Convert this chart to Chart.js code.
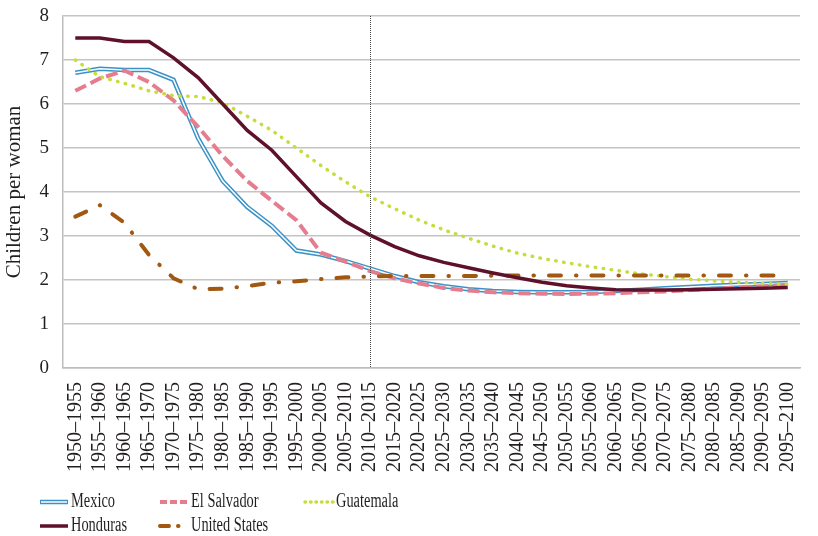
<!DOCTYPE html>
<html>
<head>
<meta charset="utf-8">
<script src="https://cdn.jsdelivr.net/npm/chart.js@4.4.1/dist/chart.umd.min.js"></script>
<style>
  html, body { margin: 0; padding: 0; background: #fff; }
  #wrap { width: 818px; height: 536px; }
</style>
</head>
<body>
<div id="wrap"><canvas id="fertility"></canvas></div>
<script>
// five-year periods
const periods = [
  '1950–1955', '1955–1960', '1960–1965', '1965–1970', '1970–1975', '1975–1980',
  '1980–1985', '1985–1990', '1990–1995', '1995–2000', '2000–2005', '2005–2010',
  '2010–2015', '2015–2020', '2020–2025', '2025–2030', '2030–2035', '2035–2040',
  '2040–2045', '2045–2050', '2050–2055', '2055–2060', '2060–2065', '2065–2070',
  '2070–2075', '2075–2080', '2080–2085', '2085–2090', '2090–2095', '2095–2100'
];
const projectionStart = '2010–2015';

const mexico = [6.71, 6.8, 6.77, 6.77, 6.55, 5.22, 4.25, 3.66, 3.23, 2.67, 2.58, 2.43, 2.26, 2.09, 1.95,
  1.86, 1.79, 1.75, 1.73, 1.72, 1.72, 1.73, 1.75, 1.78, 1.81, 1.84, 1.87, 1.89, 1.91, 1.93];
const elSalvador = [6.3, 6.58, 6.76, 6.5, 6.08, 5.48, 4.82, 4.25, 3.8, 3.36, 2.62, 2.42, 2.2, 2.04, 1.92,
  1.82, 1.76, 1.72, 1.7, 1.69, 1.68, 1.69, 1.7, 1.72, 1.74, 1.77, 1.8, 1.83, 1.86, 1.89];
const guatemala = [7.0, 6.62, 6.47, 6.3, 6.19, 6.17, 6.03, 5.72, 5.4, 5.0, 4.6, 4.23, 3.89, 3.62, 3.36,
  3.14, 2.95, 2.77, 2.61, 2.49, 2.39, 2.3, 2.22, 2.14, 2.08, 2.02, 1.98, 1.95, 1.92, 1.9];
const honduras = [7.5, 7.5, 7.42, 7.42, 7.05, 6.6, 6.0, 5.4, 4.95, 4.35, 3.75, 3.33, 3.02, 2.76, 2.55,
  2.4, 2.28, 2.16, 2.05, 1.95, 1.87, 1.82, 1.78, 1.77, 1.77, 1.78, 1.79, 1.8, 1.81, 1.83];
const unitedStates = [3.44, 3.7, 3.3, 2.57, 2.04, 1.79, 1.8, 1.86, 1.94, 1.97, 2.02, 2.06, 2.08, 2.09, 2.09,
  2.09, 2.09, 2.1, 2.1, 2.1, 2.1, 2.1, 2.1, 2.1, 2.1, 2.1, 2.1, 2.1, 2.1, 2.1];

const yTicks = [0, 1, 2, 3, 4, 5, 6, 7, 8];

const serif = '"Liberation Serif", "DejaVu Serif", serif';
const ink = '#231f20';

// dotted vertical line where projections start
const projectionLine = {
  id: 'projectionLine',
  afterDatasetsDraw(chart) {
    const { ctx, chartArea, scales } = chart;
    const x = Math.round(scales.x.getPixelForValue(periods.indexOf(projectionStart))) + 0.5;
    ctx.save();
    ctx.strokeStyle = '#444';
    ctx.lineWidth = 1;
    ctx.setLineDash([1, 1]);
    ctx.beginPath();
    ctx.moveTo(x, chartArea.top);
    ctx.lineTo(x, chartArea.bottom);
    ctx.stroke();
    ctx.restore();
  }
};

// legend laid out in fixed columns like the original
const gridLegend = {
  id: 'gridLegend',
  afterDraw(chart) {
    const ctx = chart.ctx;
    const colX = [40, 160, 305];
    const rowY = [502, 526];
    chart.data.datasets.forEach(ds => {
      if (!ds.legend) return;
      const x = colX[ds.legend.col], y = rowY[ds.legend.row];
      const w = 28;
      ctx.save();
      ctx.lineCap = ds.borderCapStyle || 'butt';
      ctx.strokeStyle = ds.borderColor;
      ctx.lineWidth = ds.borderWidth;
      ctx.setLineDash(ds.legend.dash || []);
      ctx.beginPath();
      ctx.moveTo(x, y);
      ctx.lineTo(x + w, y);
      ctx.stroke();
      if (ds.legend.inner) {
        ctx.strokeStyle = '#fff';
        ctx.lineWidth = 1.5;
        ctx.beginPath();
        ctx.moveTo(x + 1, y);
        ctx.lineTo(x + w - 1, y);
        ctx.stroke();
      }
      ctx.restore();
      ctx.save();
      ctx.fillStyle = ink;
      ctx.font = '20px ' + serif;
      ctx.textBaseline = 'middle';
      ctx.translate(x + w + 3, y);
      ctx.scale(0.72, 1);
      ctx.fillText(ds.label, 0, 0);
      ctx.restore();
    });
  }
};

new Chart(document.getElementById('fertility'), {
  type: 'line',
  data: {
    labels: periods,
    datasets: [
      {
        label: 'Honduras',
        data: honduras,
        borderColor: '#5e1129',
        borderWidth: 3.5,
        order: 1,
        legend: { col: 0, row: 1 }
      },
      {
        label: 'United States',
        data: unitedStates,
        borderColor: '#a15912',
        borderWidth: 4,
        borderCapStyle: 'round',
        borderDash: [12, 15, 0.5, 15],
        order: 2,
        legend: { col: 1, row: 1, dash: [9, 9, 0.5, 20] }
      },
      {
        label: 'Guatemala',
        data: guatemala,
        borderColor: '#c8dc3c',
        borderWidth: 3.5,
        borderCapStyle: 'round',
        borderDash: [0.5, 7.5],
        order: 3,
        legend: { col: 2, row: 0, dash: [0.5, 5] }
      },
      {
        label: 'El Salvador',
        data: elSalvador,
        borderColor: '#e57d8e',
        borderWidth: 4,
        borderDash: [12, 5],
        order: 4,
        legend: { col: 1, row: 0, dash: [7, 3] }
      },
      {
        label: 'Mexico core',
        data: mexico,
        borderColor: '#ffffff',
        borderWidth: 1.5,
        order: 5
      },
      {
        label: 'Mexico',
        data: mexico,
        borderColor: '#3a92c6',
        borderWidth: 4.5,
        order: 6,
        legend: { col: 0, row: 0, inner: true }
      }
    ]
  },
  options: {
    responsive: true,
    maintainAspectRatio: false,
    animation: false,
    elements: {
      line: { tension: 0, fill: false },
      point: { radius: 0, hoverRadius: 0 }
    },
    layout: { padding: { top: 0, right: 15, bottom: 56, left: 2 } },
    plugins: {
      legend: { display: false },
      tooltip: { enabled: false }
    },
    scales: {
      x: {
        offset: true,
        grid: { display: false },
        border: { display: true, color: '#bdbdbd', width: 1.5 },
        ticks: {
          color: ink,
          font: { family: serif, size: 20 },
          minRotation: 90,
          maxRotation: 90,
          autoSkip: false,
          padding: 6
        },
        afterFit(scale) { scale.height = 112; }
      },
      y: {
        min: 0,
        max: 8,
        afterBuildTicks(scale) { scale.ticks = yTicks.map(v => ({ value: v })); },
        grid: { color: '#c4c4c4', lineWidth: 1.5, drawTicks: false },
        border: { display: true, color: '#bdbdbd', width: 1.5 },
        ticks: {
          color: ink,
          font: { family: serif, size: 19 },
          padding: 14
        },
        title: {
          display: true,
          text: 'Children per woman',
          color: ink,
          font: { family: serif, size: 21 },
          padding: { top: 0, bottom: 0 }
        },
        afterFit(scale) {
          scale.width = 61;
          scale.paddingTop = 16;
        }
      }
    }
  },
  plugins: [projectionLine, gridLegend]
});
</script>
</body>
</html>
